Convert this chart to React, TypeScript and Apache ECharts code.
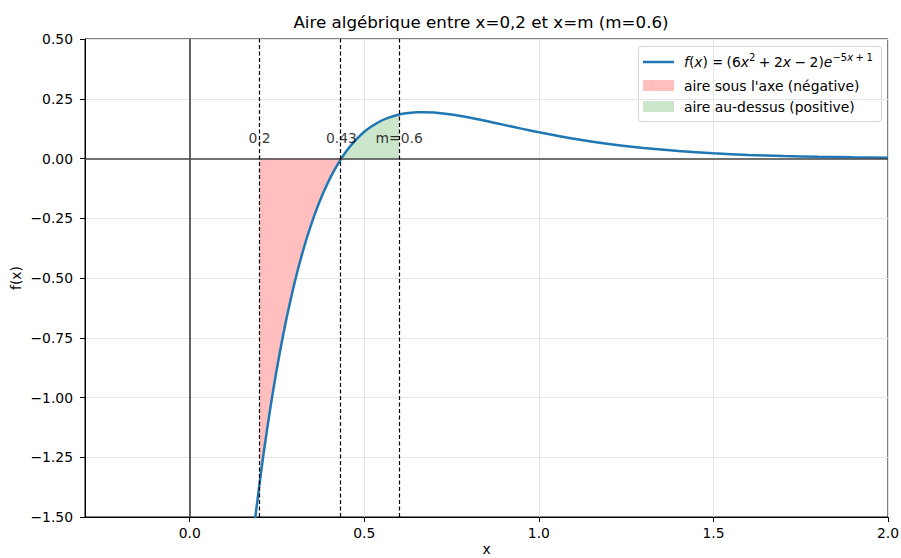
import React, { useEffect, useRef } from 'react';
import * as echarts from 'echarts';

// Curve points: f(x) = (6x²+2x−2)e^(−5x+1)
const curveX = [
  0.17, 0.18, 0.19, 0.2, 0.21, 0.22, 0.23, 0.24, 0.25, 0.26, 0.27, 0.28, 0.29, 0.3,
  0.31, 0.32, 0.33, 0.34, 0.35, 0.36, 0.37, 0.38, 0.39, 0.4, 0.41, 0.42, 0.43, 0.4343,
  0.44, 0.45, 0.46, 0.47, 0.48, 0.5, 0.52, 0.55, 0.57, 0.6, 0.62, 0.65, 0.67, 0.7,
  0.75, 0.8, 0.85, 0.9, 0.95, 1.0, 1.1, 1.2, 1.3, 1.4, 1.5, 1.6, 1.7, 1.8, 1.9, 2.0,
];
const curveY = [
  -1.7272, -1.5976, -1.4754, -1.36, -1.2512, -1.1488, -1.0523, -0.9615, -0.8762, -0.7959,
  -0.7206, -0.6499, -0.5837, -0.5216, -0.4635, -0.4092, -0.3584, -0.3111, -0.2669, -0.2257,
  -0.1875, -0.1519, -0.1189, -0.0883, -0.06, -0.0338, -0.0097, 0,
  0.0125, 0.033, 0.0517, 0.0688, 0.0844, 0.1116, 0.1337, 0.159, 0.1713, 0.1841, 0.1894,
  0.1934, 0.1939, 0.1921, 0.1838, 0.1713, 0.1565, 0.1407, 0.125, 0.1099, 0.0829, 0.0609,
  0.0439, 0.0311, 0.0218, 0.0151, 0.0104, 0.0071, 0.0048, 0.0032,
];

const startX = 0.2; // x = 0,2
const rootX = 0.4343; // zero of f
const mX = 0.6; // x = m
const markXs = [startX, rootX, mX];
const markLabels = ['0,2', '0.43', 'm=0.6'];
const markLabelY = 0.05;

const xTickValues = [0, 0.5, 1.0, 1.5, 2.0];
const xMin = -0.3;
const xMax = 2.0;
const yMin = -1.5;
const yMax = 0.5;
const yInterval = 0.25;

const titleText = 'Aire algébrique entre x=0,2 et x=m (m=0.6)';
const legendNeg = "aire sous l'axe (négative)";
const legendPos = 'aire au-dessus (positive)';

const FONT = 'DejaVu Sans';
const BLUE = '#1f77b4';
const RED_FILL = '#ffbfbf';
const GREEN_FILL = '#cce6cc';
const SP = '\u2005';

export default function App() {
  const ref = useRef<HTMLDivElement>(null);
  useEffect(() => {
    const chart = echarts.init(ref.current!, null, { renderer: 'svg' });
    const pts = curveX.map((x, i) => [x, curveY[i]]);
    const negPts = pts.filter((p) => p[0] >= startX && p[0] <= rootX);
    const posPts = pts.filter((p) => p[0] >= rootX && p[0] <= mX);
    const labelPts = markXs.map((x, i) => ({ value: [x, markLabelY], name: markLabels[i] }));

    const mathText =
      `{i|f}{n|(}{i|x}{n|)${SP}=${SP}(6}{i|x}{s|2}{n|${SP}+${SP}2}{i|x}{n|${SP}−${SP}2)}` +
      `{i|e}{s|−5}{si|x}{s|${SP}+${SP}1}`;

    const option: any = {
      animation: false,
      backgroundColor: '#fff',
      textStyle: { fontFamily: FONT },
      grid: {
        left: 85,
        right: 13,
        top: 39,
        bottom: 41,
        show: true,
        borderColor: '#000',
        borderWidth: 1,
        backgroundColor: 'transparent',
        containLabel: false,
        outerBoundsMode: 'none',
      },
      xAxis: {
        type: 'value',
        min: xMin,
        max: xMax,
        name: 'x',
        nameLocation: 'middle',
        nameGap: 25,
        nameMoveOverlap: false,
        nameTextStyle: { fontFamily: FONT, fontSize: 13.9, color: '#000', lineHeight: 14 },
        axisLine: { show: true, onZero: false, lineStyle: { color: '#000', width: 1 } },
        axisTick: { show: true, length: 5, lineStyle: { color: '#000' }, customValues: xTickValues },
        axisLabel: {
          customValues: xTickValues,
          margin: 9,
          fontFamily: FONT,
          fontSize: 13.9,
          color: '#000',
          formatter: (v: number) => v.toFixed(1).replace('-', '−'),
        },
        splitLine: { show: true, lineStyle: { color: '#e6e6e6', width: 1 } },
      },
      yAxis: {
        type: 'value',
        min: yMin,
        max: yMax,
        interval: yInterval,
        name: 'f(x)',
        nameLocation: 'middle',
        nameGap: 62,
        nameMoveOverlap: false,
        nameTextStyle: { fontFamily: FONT, fontSize: 13.9, color: '#000' },
        axisLine: { show: true, onZero: false, lineStyle: { color: '#000', width: 1 } },
        axisTick: { show: true, length: 5, lineStyle: { color: '#000' } },
        axisLabel: {
          margin: 12,
          fontFamily: FONT,
          fontSize: 13.9,
          color: '#000',
          formatter: (v: number) => v.toFixed(2).replace('-', '−'),
        },
        splitLine: { show: true, lineStyle: { color: '#e6e6e6', width: 1 } },
      },
      series: [
        {
          name: 'neg',
          type: 'line',
          data: negPts,
          showSymbol: false,
          smooth: 0.2,
          lineStyle: { width: 0 },
          areaStyle: { color: RED_FILL, opacity: 1, origin: 0 },
          itemStyle: { color: RED_FILL },
          silent: true,
          z: 1,
        },
        {
          name: 'pos',
          type: 'line',
          data: posPts,
          showSymbol: false,
          smooth: 0.2,
          lineStyle: { width: 0 },
          areaStyle: { color: GREEN_FILL, opacity: 1, origin: 0 },
          itemStyle: { color: GREEN_FILL },
          silent: true,
          z: 1,
        },
        {
          name: 'refs',
          type: 'line',
          data: [],
          silent: true,
          z: 2,
          markLine: {
            silent: true,
            symbol: 'none',
            animation: false,
            label: { show: false },
            data: [
              { xAxis: 0, lineStyle: { color: '#333', width: 1.5, type: 'solid' } },
              { yAxis: 0, lineStyle: { color: '#444', width: 1.5, type: 'solid' } },
            ],
          },
        },
        {
          name: 'f',
          type: 'line',
          data: pts,
          showSymbol: false,
          smooth: 0.2,
          clip: true,
          lineStyle: { color: BLUE, width: 2.5 },
          itemStyle: { color: BLUE },
          silent: true,
          z: 3,
        },
        {
          name: 'marks',
          type: 'scatter',
          data: labelPts,
          symbolSize: 0,
          silent: true,
          z: 4,
          label: {
            show: true,
            position: 'top',
            distance: 2,
            formatter: (p: any) => p.name,
            fontFamily: FONT,
            fontSize: 13.9,
            color: '#000',
          },
          markLine: {
            silent: true,
            symbol: 'none',
            animation: false,
            label: { show: false },
            lineStyle: { color: '#000', width: 1.2, type: [4, 2.5] },
            data: markXs.map((x) => ({ xAxis: x })),
          },
        },
      ],
      graphic: [
        {
          type: 'text',
          x: 481,
          y: 22,
          z: 100,
          style: {
            text: titleText,
            fill: '#000',
            fontFamily: FONT,
            fontSize: 16.7,
            align: 'center',
            verticalAlign: 'middle',
          },
        },
        {
          type: 'group',
          z: 100,
          children: [
            {
              type: 'rect',
              shape: { x: 638.5, y: 46.5, width: 243, height: 75, r: 3 },
              style: { fill: 'rgba(255,255,255,0.8)', stroke: '#d6d6d6', lineWidth: 1 },
            },
            {
              type: 'line',
              shape: { x1: 643, y1: 62, x2: 674, y2: 62 },
              style: { stroke: BLUE, lineWidth: 2.5 },
            },
            {
              type: 'rect',
              shape: { x: 643, y: 80, width: 31, height: 11 },
              style: { fill: RED_FILL },
            },
            {
              type: 'rect',
              shape: { x: 643, y: 101, width: 31, height: 11 },
              style: { fill: GREEN_FILL },
            },
            {
              type: 'text',
              x: 684,
              y: 62,
              style: {
                text: mathText,
                fill: '#000',
                verticalAlign: 'middle',
                align: 'left',
                fontFamily: FONT,
                fontSize: 13.9,
                rich: {
                  n: { fontFamily: FONT, fontSize: 13.9, lineHeight: 20, fill: '#000' },
                  i: { fontFamily: FONT, fontStyle: 'italic', fontSize: 13.9, lineHeight: 20, fill: '#000' },
                  s: { fontFamily: FONT, fontSize: 10, lineHeight: 11, verticalAlign: 'top', fill: '#000' },
                  si: { fontFamily: FONT, fontStyle: 'italic', fontSize: 10, lineHeight: 11, verticalAlign: 'top', fill: '#000' },
                },
              },
            },
            {
              type: 'text',
              x: 684,
              y: 85.5,
              style: { text: legendNeg, fill: '#000', fontFamily: FONT, fontSize: 13.9, verticalAlign: 'middle', align: 'left' },
            },
            {
              type: 'text',
              x: 684,
              y: 107,
              style: { text: legendPos, fill: '#000', fontFamily: FONT, fontSize: 13.9, verticalAlign: 'middle', align: 'left' },
            },
          ],
        },
      ],
    };
    chart.setOption(option);
    return () => chart.dispose();
  }, []);
  return <div ref={ref} style={{ position: 'fixed', left: 0, top: 0, width: 901, height: 558 }} />;
}
